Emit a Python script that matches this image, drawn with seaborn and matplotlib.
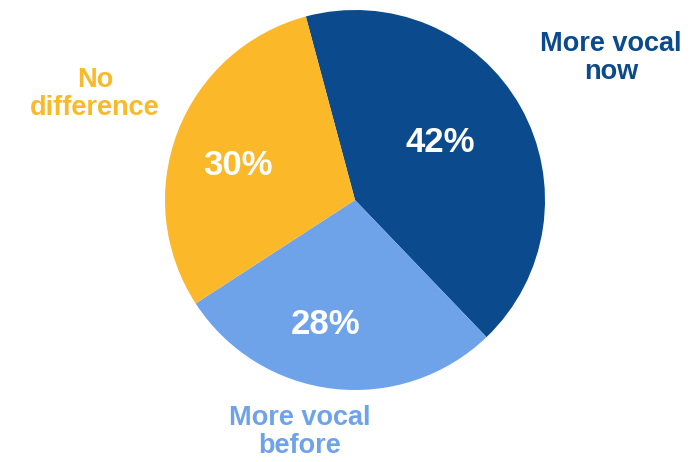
import matplotlib
matplotlib.use('Agg')
import matplotlib.pyplot as plt
import seaborn as sns

# Dữ liệu
labels = ['More vocal\nnow', 'More vocal\nbefore', 'No\ndifference']
values = [42, 28, 30]
colors = ['#0b4a8c', '#6ea3ea', '#fbb829']

sns.set_theme(style='white')
plt.rcParams['font.family'] = ['Liberation Sans', 'DejaVu Sans']

fig = plt.figure(figsize=(6.94, 4.62), dpi=100)
ax = fig.add_axes([0, 0, 1, 1])

wedges, texts, autotexts = ax.pie(values, colors=colors, startangle=105, counterclock=False,
                                  labels=labels, autopct='%d%%',
                                  wedgeprops=dict(linewidth=0))

# vị trí nhãn (theo bán kính của hình tròn)
label_pos = [(1.347, 0.747), (-0.289, -1.221), (-1.368, 0.558)]
for t, p, c in zip(texts, label_pos, colors):
    t.set_position(p)
    t.set_ha('center')
    t.set_va('center')
    t.set_color(c)
    t.set_fontsize(19.5)
    t.set_fontweight('bold')
    t.set_linespacing(1.12)

pct_pos = [(0.447, 0.305), (-0.153, -0.653), (-0.616, 0.179)]
for t, p in zip(autotexts, pct_pos):
    t.set_position(p)
    t.set_color('white')
    t.set_fontsize(25)
    t.set_fontweight('bold')

ax.set_xlim(-355 / 190, (694 - 355) / 190)
ax.set_ylim(-(462 - 200) / 190, 200 / 190)
ax.set_aspect('equal')
ax.axis('off')

plt.savefig('out.png', dpi=100)
plt.close()
